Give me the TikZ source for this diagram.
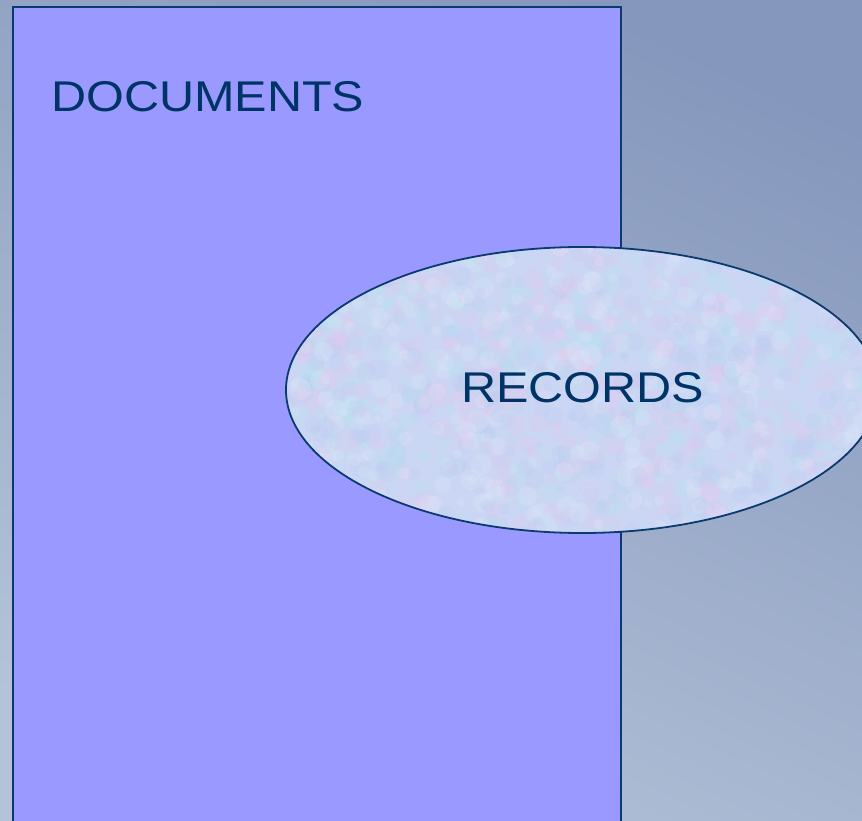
\documentclass[tikz,border=0pt]{standalone}
\usepackage{fontspec}
\setmainfont{Liberation Sans}
\definecolor{bgtop}{HTML}{8597BC}
\definecolor{bgbot}{HTML}{B4C3D9}
\definecolor{docfill}{HTML}{9999FF}
\definecolor{navy}{HTML}{0B3A6F}
\definecolor{textnavy}{HTML}{003366}
\definecolor{recfill}{HTML}{CAD6F3}
\definecolor{mottlepink}{HTML}{EAC6F0}
\definecolor{mottlecyan}{HTML}{B6E4F2}
\definecolor{mottleblue}{HTML}{BCCBF0}
\definecolor{mottlewhite}{HTML}{E4EAF9}
\tikzset{
  boxstyle/.style={draw=navy, line width=1.8pt, fill=docfill},
  ovalfill/.style={fill=recfill},
  ovaledge/.style={draw=navy, line width=1.8pt},
  mottle/.style={fill opacity=0.22},
  labelstyle/.style={text=textnavy, inner sep=0pt, anchor=base west, font=\fontsize{43}{50}\selectfont}
}
\begin{document}
\begin{tikzpicture}[x=1pt, y=-1pt]
\useasboundingbox (0,0) rectangle (862,821);
\clip (0,0) rectangle (862,821);
\shade[top color=bgtop, bottom color=bgbot, shading angle=-25] (-20,-20) rectangle (882,841);
\path[boxstyle] (13,7) rectangle (621,830);
\coordinate (c) at (582,390);
\path[ovalfill] (c) ellipse [x radius=296, y radius=143];
\begin{scope}
  \clip (c) ellipse [x radius=296, y radius=143];
  \pgfmathsetseed{11}
  \foreach \i in {1,...,1400} {
    \pgfmathsetmacro{\px}{286+592*rnd}
    \pgfmathsetmacro{\py}{247+286*rnd}
    \pgfmathsetmacro{\pr}{4+7*rnd}
    \pgfmathtruncatemacro{\pc}{4*rnd}
    \ifcase\pc
      \fill[mottle, mottlepink] (\px,\py) circle[radius=\pr];
    \or
      \fill[mottle, mottlecyan] (\px,\py) circle[radius=\pr];
    \or
      \fill[mottle, mottleblue] (\px,\py) circle[radius=\pr];
    \else
      \fill[mottle, mottlewhite] (\px,\py) circle[radius=\pr];
    \fi
  }
\end{scope}
\path[ovaledge] (c) ellipse [x radius=296, y radius=143];
\node[labelstyle] (documents) at (51,112) {\scalebox{1.13}[1]{DOCUMENTS}};
\node[labelstyle] (records) at (461,402) {\scalebox{1.13}[1]{RECORDS}};
\end{tikzpicture}
\end{document}
